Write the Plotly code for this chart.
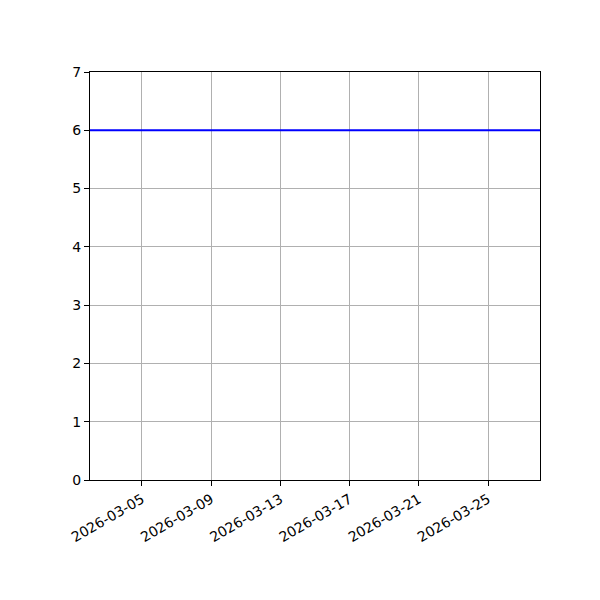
import plotly.graph_objects as go

dates = [
    "2026-03-02", "2026-03-03", "2026-03-04", "2026-03-05", "2026-03-06",
    "2026-03-07", "2026-03-08", "2026-03-09", "2026-03-10", "2026-03-11",
    "2026-03-12", "2026-03-13", "2026-03-14", "2026-03-15", "2026-03-16",
    "2026-03-17", "2026-03-18", "2026-03-19", "2026-03-20", "2026-03-21",
    "2026-03-22", "2026-03-23", "2026-03-24", "2026-03-25", "2026-03-26",
    "2026-03-27", "2026-03-28",
]
values = [6, 6, 6, 6, 6, 6, 6, 6, 6, 6, 6, 6, 6, 6, 6, 6, 6, 6, 6, 6,
          6, 6, 6, 6, 6, 6, 6]
tick_dates = ["2026-03-05", "2026-03-09", "2026-03-13", "2026-03-17",
              "2026-03-21", "2026-03-25"]

fig = go.Figure(go.Scatter(x=dates, y=values, mode="lines",
                           line=dict(color="blue", width=2)))

axis_style = dict(showline=True, linecolor="black", linewidth=1, mirror=True,
                  ticks="outside", ticklen=5, tickwidth=1, tickcolor="black",
                  showgrid=True, gridcolor="#b0b0b0", gridwidth=1,
                  zeroline=False, tickfont=dict(size=14, color="black"))

fig.update_xaxes(range=[dates[0], dates[-1]], tickvals=tick_dates,
                 ticktext=tick_dates, tickangle=-30, **axis_style)
fig.update_yaxes(range=[0, 7], dtick=1, **axis_style)

# page adds an 8px offset, so margins are shifted to line up the plot box
fig.update_layout(width=600, height=600, showlegend=False,
                  plot_bgcolor="white", paper_bgcolor="white",
                  font=dict(family="DejaVu Sans", size=14, color="black"),
                  margin=dict(l=82, r=68, t=64, b=128))

fig.write_html("out.html")
